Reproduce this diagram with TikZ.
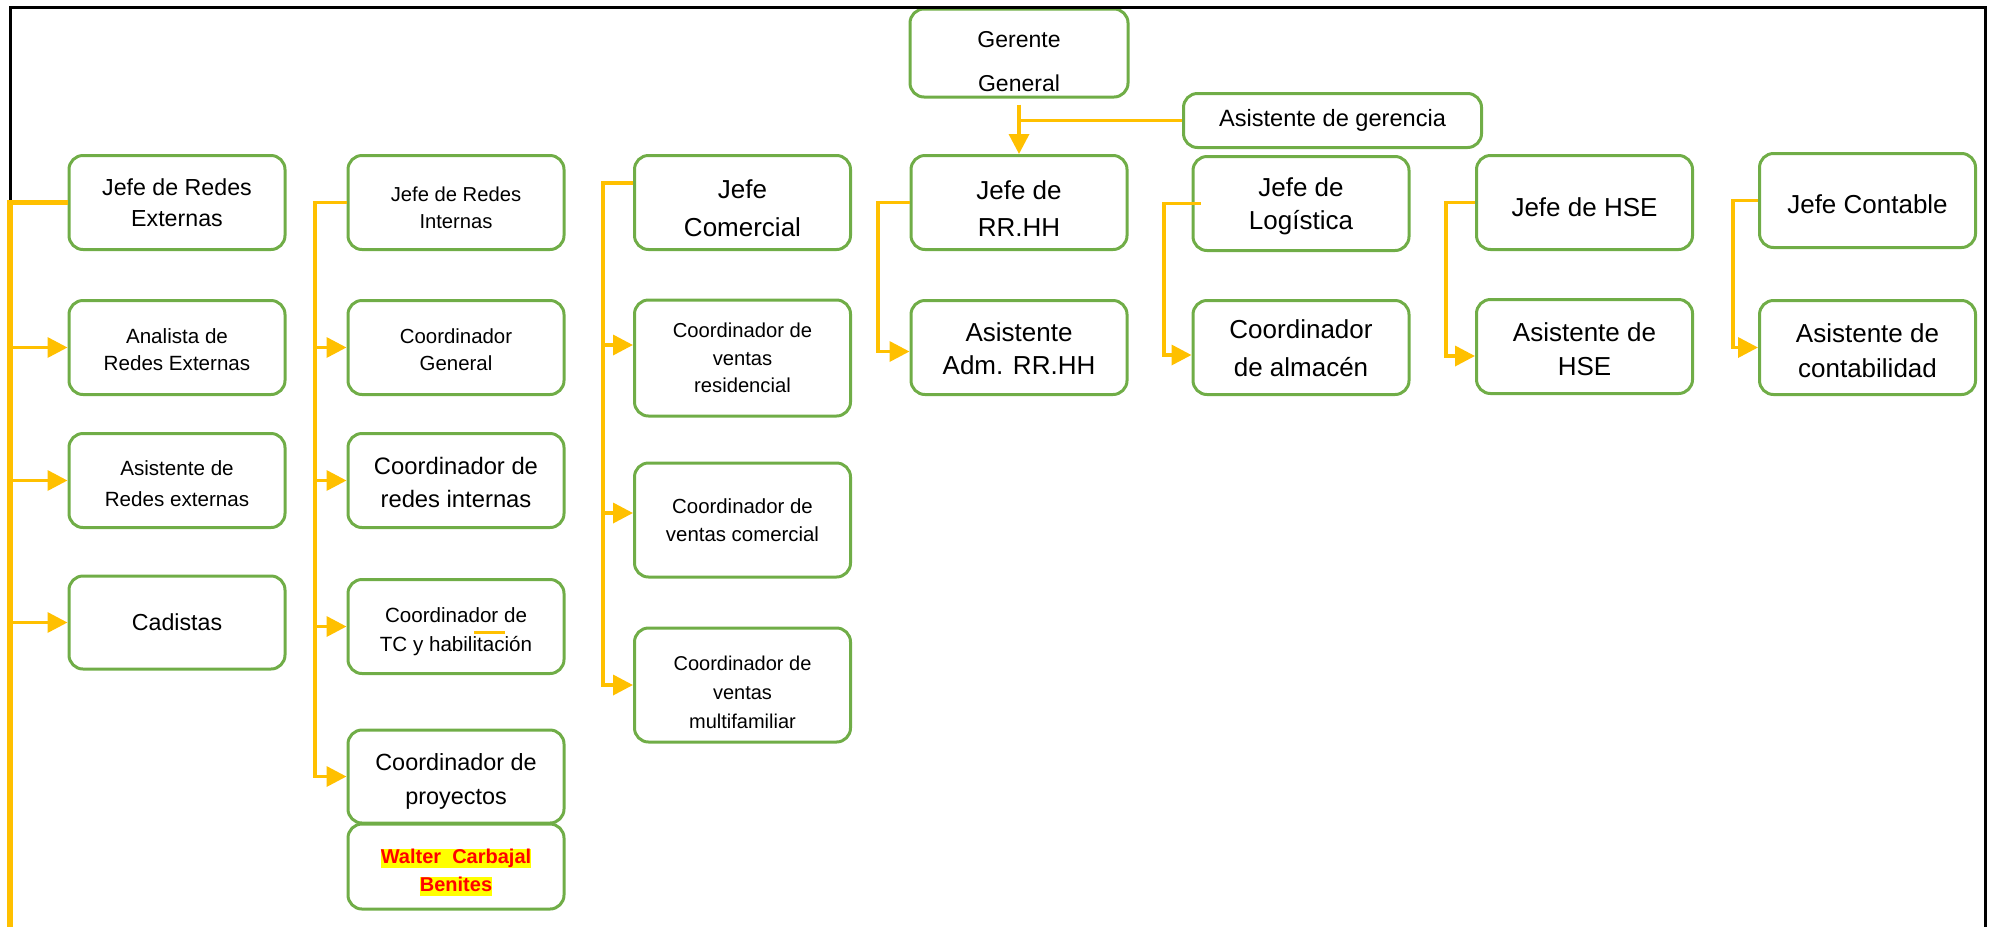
\documentclass[tikz,border=0pt]{standalone}
\usepackage{fontspec}
\setmainfont{Liberation Sans}
\usepackage{xcolor}
\definecolor{colorBox}{HTML}{70AD47}
\definecolor{colorLink}{HTML}{FFC000}
\definecolor{colorMark}{HTML}{FFFF00}
\definecolor{colorName}{HTML}{FF0000}
\usepackage{tikz}
\usetikzlibrary{arrows.meta, positioning}
\tikzset{box/.style={draw=colorBox, line width=1.5pt, rounded corners=7pt, align=center, minimum width=108pt, minimum height=47pt, inner sep=1pt}}
\newcommand{\txtsize}[2]{\fontsize{#1}{#2}\selectfont}
\newcommand{\lift}[1]{\rule{0pt}{\dimexpr0.73em+#1\relax}}
\newcommand{\hlstrut}{\rule[-2.3pt]{0pt}{9.2pt}}
\setlength{\fboxsep}{0pt}

\begin{document}
\begin{tikzpicture}[x=0.5pt, y=-0.5pt, >={Triangle[length=10pt, width=10pt]}, link/.style={colorLink, line width=1.75pt}, trunk/.style={colorLink, line width=2.75pt}, frame/.style={black, line width=1.5pt}]
\useasboundingbox (0,0) rectangle (1989,927);
% gerencia
\node[box, minimum width=109pt, minimum height=44pt, font=\txtsize{11.5}{22}] (gg) at (1019,53) {\lift{8pt}Gerente\\General};
\node[box, minimum width=149pt, minimum height=27pt, font=\txtsize{11.8}{15}] (ag) at (1332.5,120.5) {Asistente de gerencia};
% jefaturas
\node[box, font=\txtsize{11.6}{15.5}] (jre) at (177,202.5) {Jefe de Redes\\Externas};
\node[box, font=\txtsize{10.1}{13.5}] (jri) at (456,202.5) {\lift{5pt}Jefe de Redes\\Internas};
\node[box, font=\txtsize{13}{19}] (jc) at (742.5,202.5) {\lift{6pt}Jefe\\Comercial};
\node[box, font=\txtsize{13}{18.5}] (jrh) at (1019,202.5) {\lift{6pt}Jefe de\\RR.HH};
\node[box, font=\txtsize{13}{16.5}] (jl) at (1301,203.5) {\lift{3pt}Jefe de\\Logística};
\node[box, font=\txtsize{13}{17}] (jh) at (1584.5,202.5) {\lift{5pt}Jefe de HSE};
\node[box, font=\txtsize{13}{17}] (jco) at (1867.5,200.5) {\lift{4pt}Jefe Contable};
% segundo nivel
\node[box, font=\txtsize{10.3}{13.5}] (ana) at (177,347.5) {\lift{2.5pt}Analista de\\Redes Externas};
\node[box, font=\txtsize{10.2}{13.5}] (cg) at (456,347.5) {\lift{2.5pt}Coordinador\\General};
\node[box, minimum height=58pt, font=\txtsize{10.1}{13.75}] (cvr) at (742.5,358) {Coordinador de\\ventas\\residencial};
\node[box, font=\txtsize{13}{16.5}] (aar) at (1019,347.5) {\lift{1pt}Asistente\\Adm. RR.HH};
\node[box, font=\txtsize{13}{19}] (calm) at (1301,347.5) {\lift{1pt}Coordinador\\de almacén};
\node[box, font=\txtsize{13}{17}] (ahse) at (1584.5,346.5) {\lift{2.5pt}Asistente de\\HSE};
\node[box, font=\txtsize{13}{17.8}] (acont) at (1867.5,347.5) {\lift{3pt}Asistente de\\contabilidad};
% tercer nivel
\node[box, font=\txtsize{10.3}{15.2}] (arext) at (177,480.5) {\lift{3pt}Asistente de\\Redes externas};
\node[box, font=\txtsize{11.9}{16.5}] (cri) at (456,480.5) {\lift{2pt}Coordinador de\\redes internas};
\node[box, minimum height=57pt, font=\txtsize{10.2}{14.3}] (cvc) at (742.5,520) {Coordinador de\\ventas comercial};
% cuarto nivel
\node[box, minimum height=46.5pt, font=\txtsize{11.6}{14}] (cad) at (177,622.5) {Cadistas};
\node[box, font=\txtsize{10.3}{14.6}] (ctc) at (456,626.5) {\lift{5.5pt}Coordinador de\\TC y habilitación};
\node[box, minimum height=57pt, font=\txtsize{10}{14.6}] (cvm) at (742.5,685) {\lift{7pt}Coordinador de\\ventas\\multifamiliar};
% quinto nivel
\node[box, minimum height=46.5pt, font=\txtsize{11.7}{17}] (cpr) at (456,776.5) {\lift{5pt}Coordinador de\\proyectos};
\node[box, minimum height=42.5pt, text=colorName, font=\bfseries\txtsize{10}{14}] (wcb) at (456,866.5) {\rule{0pt}{13.2pt}\colorbox{colorMark}{\hlstrut Walter\ \ Carbajal}\\\colorbox{colorMark}{\hlstrut Benites}};
% ejes
\coordinate (c1) at (10,927);
\coordinate (c2) at (315,0);
\coordinate (c3) at (603,0);
\coordinate (c4) at (878,0);
\coordinate (c5) at (1164,0);
\coordinate (c6) at (1446,0);
\coordinate (c7) at (1733,0);
\coordinate (tl) at (10,7);
\coordinate (tr) at (1985,7);
\coordinate (br) at (1985,927);
\coordinate (jcin) at ([yshift=9.75pt]jc.west);
\coordinate (jlin) at ([xshift=4.5pt]jl.west);
\coordinate (cvrin) at ([yshift=6.5pt]cvr.west);
\coordinate (cvcin) at ([yshift=3.5pt]cvc.west);
\coordinate (aarin) at ([yshift=-2pt]aar.west);
\coordinate (calmin) at ([yshift=-3.75pt]calm.west);
\coordinate (ahsein) at ([yshift=-4.75pt]ahse.west);
% marco
\draw[frame] (c1 |- jre.west) -- (tl) -- (tr) -- (br);
% gerencia
\draw[link, ->] ([yshift=-3pt]gg.south) -- (jrh.north);
\draw[link] (ag.west) -- (ag.west -| gg.south);
% redes externas
\draw[trunk] (jre.west) -| (c1);
\draw[link, ->] (c1 |- ana.west) -- (ana.west);
\draw[link, ->] (c1 |- arext.west) -- (arext.west);
\draw[link, ->] (c1 |- cad.west) -- (cad.west);
% redes internas
\draw[link, ->] (jri.west) -| (c2 |- cpr.west) -- (cpr.west);
\draw[link, ->] (c2 |- cg.west) -- (cg.west);
\draw[link, ->] (c2 |- cri.west) -- (cri.west);
\draw[link, ->] (c2 |- ctc.west) -- (ctc.west);
% comercial
\draw[link, ->] (jcin) -| (c3 |- cvm.west) -- (cvm.west);
\draw[link, ->] (c3 |- cvrin) -- (cvrin);
\draw[link, ->] (c3 |- cvcin) -- (cvcin);
% rr.hh, logistica, hse, contable
\draw[link, ->] (jrh.west) -| (c4 |- aarin) -- (aarin);
\draw[link, ->] (jlin) -| (c5 |- calmin) -- (calmin);
\draw[link, ->] (jh.west) -| (c6 |- ahsein) -- (ahsein);
\draw[link, ->] (jco.west) -| (c7 |- acont.west) -- (acont.west);
% marca
\draw[link, line width=1.5pt] ([xshift=9pt, yshift=-3pt]ctc.center) -- ++(15.5pt,0);
\end{tikzpicture}
\end{document}
